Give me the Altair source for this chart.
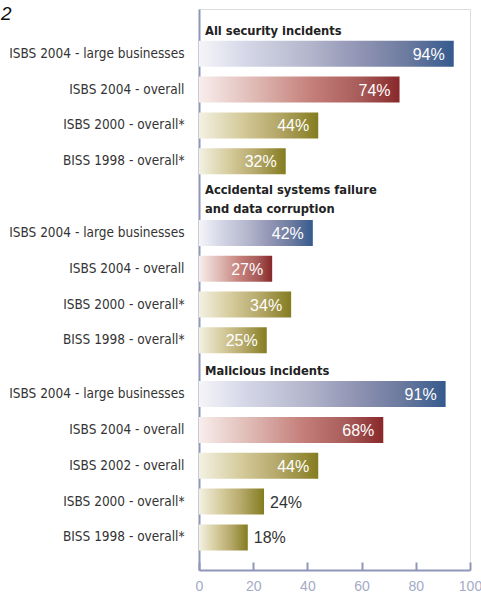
import altair as alt
import pandas as pd

# ---- data ----
group_titles = ["All security incidents",
                "Accidental systems failure\nand data corruption",
                "Malicious incidents"]
g1_labels = ["ISBS 2004 - large businesses", "ISBS 2004 - overall",
             "ISBS 2000 - overall*", "BISS 1998 - overall*"]
g1_values = [94, 74, 44, 32]
g1_series = ["large", "overall", "past", "past"]
g2_labels = ["ISBS 2004 - large businesses", "ISBS 2004 - overall",
             "ISBS 2000 - overall*", "BISS 1998 - overall*"]
g2_values = [42, 27, 34, 25]
g2_series = ["large", "overall", "past", "past"]
g3_labels = ["ISBS 2004 - large businesses", "ISBS 2004 - overall",
             "ISBS 2002 - overall", "ISBS 2000 - overall*", "BISS 1998 - overall*"]
g3_values = [91, 68, 44, 24, 18]
g3_series = ["large", "overall", "past", "past", "past"]
x_ticks = [0, 20, 40, 60, 80, 100]

groups = [(g1_labels, g1_values, g1_series),
          (g2_labels, g2_values, g2_series),
          (g3_labels, g3_values, g3_series)]
# spacer slots before each group (band scale layout, half-row units)
lead_spacers = [2, 3, 2]
trail_spacers = 1

rows = []
domain = []
heads = []
sp = 0
for gi, (labs, vals, sers) in enumerate(groups):
    for _ in range(lead_spacers[gi]):
        domain.append(f"sp{sp}"); sp += 1
    for ri, (l, v, s) in enumerate(zip(labs, vals, sers)):
        if ri > 0:
            domain.append(f"sp{sp}"); sp += 1
        key = f"{gi}|{l}"
        domain.append(key)
        rows.append({"key": key, "value": v, "series": s, "txt": f"{v}%"})
        if ri == 0:
            heads.append({"key": key, "title": group_titles[gi]})
for _ in range(trail_spacers):
    domain.append(f"sp{sp}"); sp += 1

df = pd.DataFrame(rows)
hd = pd.DataFrame(heads)
hd_single = hd[~hd["title"].str.contains("\n")]
hd_multi = hd[hd["title"].str.contains("\n")]

W, H = 271, 561
AXIS_COL = "#8f96b8"
LABEL_FONT = "'DejaVu Sans Condensed', 'Liberation Sans', sans-serif"

yscale = alt.Scale(domain=domain, paddingInner=0, paddingOuter=0.16, align=0)
yaxis = alt.Axis(title=None, ticks=False, domain=True, domainColor=AXIS_COL,
                 domainWidth=2, labelExpr="indexof(datum.value, '|') > 0 ? split(datum.value, '|')[1] : ''",
                 labelFont=LABEL_FONT, labelFontSize=13.5, labelColor="#333333",
                 labelPadding=15, labelAlign="right", labelBaseline="middle",
                 labelLimit=0, grid=False)
Y = alt.Y("key:N", scale=yscale, axis=yaxis, sort=domain)
xscale = alt.Scale(domain=[0, 100], nice=False, zero=True)

bottom_axis = alt.Axis(title=None, values=x_ticks, ticks=False, grid=False,
                       domainColor=AXIS_COL, domainWidth=2, labelColor="#a3aac6",
                       labelFont="Liberation Sans", labelFontSize=14, labelPadding=9,
                       labelFlush=False, orient="bottom")
tick_axis = alt.Axis(title=None, values=x_ticks, orient="top", offset=-H,
                     labels=False, domain=False, grid=False, ticks=True,
                     tickColor=AXIS_COL, tickWidth=2, tickSize=8)


def grad(stops):
    return alt.Gradient(gradient="linear", x1=0, x2=1, y1=0, y2=0,
                        stops=[alt.GradientStop(color=c, offset=o) for o, c in stops])


fills = {
    "large": grad([(0, "#f5f5f8"), (0.18, "#d6d8e8"), (0.42, "#b5b8cd"),
                   (0.62, "#9396b5"), (0.82, "#6b7a9e"), (1, "#355a8e")]),
    "overall": grad([(0, "#f8eeec"), (0.3, "#ddb5b0"), (0.55, "#c6817c"),
                     (0.8, "#a85c5a"), (1, "#88282a")]),
    "past": grad([(0, "#f3f1e2"), (0.35, "#d5cb9c"), (0.65, "#b6a96b"),
                  (1, "#847c20")]),
}

base = alt.Chart(df)
layers = []
for i, s in enumerate(["large", "overall", "past"]):
    ax = bottom_axis if i == 0 else (tick_axis if i == 1 else None)
    layers.append(
        base.transform_filter(alt.datum.series == s)
        .mark_bar(height=26, fill=fills[s])
        .encode(x=alt.X("value:Q", scale=xscale, axis=ax), y=Y)
    )

VAL_FONT = "Liberation Sans"
inside = base.transform_filter(alt.datum.value >= 25).mark_text(
    align="right", baseline="middle", dx=-9, dy=1, color="white",
    font=VAL_FONT, fontSize=16).encode(
    x=alt.X("value:Q", scale=xscale, axis=None), y=Y, text="txt:N")
outside = base.transform_filter(alt.datum.value < 25).mark_text(
    align="left", baseline="middle", dx=6, dy=1, color="#333333",
    font=VAL_FONT, fontSize=16).encode(
    x=alt.X("value:Q", scale=xscale, axis=None), y=Y, text="txt:N")

HEAD_FONT = LABEL_FONT
head1 = alt.Chart(hd_single).mark_text(
    align="left", baseline="alphabetic", dx=6, dy=-19, font=HEAD_FONT,
    fontWeight="bold", fontSize=12.8, color="#222222").encode(
    x=alt.X(datum=0, scale=xscale, axis=None), y=Y, text="title:N")
head2 = alt.Chart(hd_multi).mark_text(
    align="left", baseline="alphabetic", dx=6, dy=-39, font=HEAD_FONT,
    fontWeight="bold", fontSize=12.8, color="#222222", lineBreak="\n",
    lineHeight=19).encode(
    x=alt.X(datum=0, scale=xscale, axis=None), y=Y, text="title:N")

chart = alt.layer(*layers, inside, outside, head1, head2).resolve_axis(
    x="independent").properties(
    width=W, height=H,
    autosize=alt.AutoSizeParams(type="none"),
    padding={"left": 199, "top": 9, "right": 11, "bottom": 22},
    title=alt.TitleParams(text="2", anchor="start", frame="group", dx=-198,
                          dy=30, offset=0, baseline="alphabetic",
                          fontStyle="italic", fontWeight="normal",
                          fontSize=19, font="Liberation Sans", color="#111111"),
).configure_view(stroke=None).configure(background="white")

chart.save("out.html", embed_options={"renderer": "svg", "actions": False})
